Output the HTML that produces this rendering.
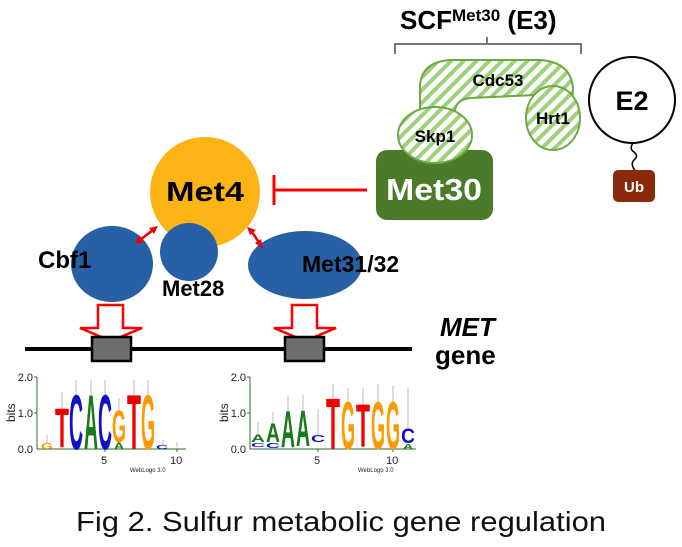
<!DOCTYPE html>
<html><head><meta charset="utf-8"><style>
html,body{margin:0;padding:0;background:#fff;}
svg{display:block;}
</style></head><body>
<svg width="682" height="547" viewBox="0 0 682 547" xmlns="http://www.w3.org/2000/svg" font-family="Liberation Sans, Arial, sans-serif">
<defs>
<pattern id="st" patternUnits="userSpaceOnUse" width="9" height="9" patternTransform="rotate(45)">
<rect width="9" height="9" fill="#fff"/><rect width="4" height="9" fill="#9fd07c"/>
</pattern>
</defs>
<text x="400" y="29" font-size="26" font-weight="bold">SCF<tspan font-size="17" dy="-8">Met30</tspan><tspan dy="8"> (E3)</tspan></text>
<path d="M395,54 V44 H581 V54 M487,44 V37" fill="none" stroke="#777" stroke-width="2"/>
<path d="M420,118 L420,85 Q422,62 450,60 L540,60 Q572,62 573,90 L572,108 L555,108 Q552,95 535,95 L470,98 Q455,100 455,112 L455,120 Z" fill="url(#st)" stroke="#6aaa40" stroke-width="2"/>
<text x="498" y="86" font-size="17" font-weight="bold" text-anchor="middle">Cdc53</text>
<ellipse cx="553" cy="118" rx="27" ry="32" fill="url(#st)" stroke="#6aaa40" stroke-width="2"/>
<text x="553" y="124" font-size="17" font-weight="bold" text-anchor="middle">Hrt1</text>
<rect x="376" y="150" width="117" height="70" rx="11" fill="#4a7a2a"/>
<ellipse cx="435" cy="135" rx="37" ry="28" fill="url(#st)" stroke="#6aaa40" stroke-width="2"/>
<text x="435" y="142" font-size="17" font-weight="bold" text-anchor="middle">Skp1</text>
<text x="434" y="200" font-size="31" font-weight="bold" fill="#fff" text-anchor="middle" textLength="96" lengthAdjust="spacingAndGlyphs">Met30</text>
<circle cx="632" cy="100" r="43" fill="#fff" stroke="#000" stroke-width="2"/>
<text x="632" y="110" font-size="27" font-weight="bold" text-anchor="middle">E2</text>
<path d="M633,143 q-4,6 1,9 q5,4 0,8 q-4,4 1,10" fill="none" stroke="#000" stroke-width="1.5"/>
<rect x="613" y="170" width="42" height="32" rx="5" fill="#8b2a0a"/>
<text x="634" y="192" font-size="15" font-weight="bold" fill="#fff" text-anchor="middle">Ub</text>
<path d="M367,190 H275 M274,175 V205" stroke="#ff0000" stroke-width="3" fill="none"/>
<circle cx="205" cy="192" r="55" fill="#fbb414"/>
<text x="205" y="201" font-size="28" font-weight="bold" text-anchor="middle" textLength="78" lengthAdjust="spacingAndGlyphs">Met4</text>
<ellipse cx="112" cy="264" rx="41" ry="38" fill="#2760a5"/>
<circle cx="189" cy="252" r="29" fill="#2760a5"/>
<ellipse cx="305" cy="265" rx="57" ry="34" fill="#2760a5"/>
<text x="38" y="268" font-size="24" font-weight="bold">Cbf1</text>
<text x="162" y="296" font-size="22" font-weight="bold">Met28</text>
<text x="302" y="272" font-size="23" font-weight="bold">Met31/32</text>
<g stroke="#e00" stroke-width="2.5" fill="#e00">
<line x1="140" y1="240" x2="153" y2="230"/>
<line x1="252" y1="232" x2="260" y2="244"/>
</g>
<polygon points="135,244 139,235 144,242" fill="#e00"/>
<polygon points="158,226 149,228 154,234" fill="#e00"/>
<polygon points="247,227 256,230 250,235" fill="#e00"/>
<polygon points="263,249 255,243 261,239" fill="#e00"/>
<g fill="#fff" stroke="#ff0000" stroke-width="2.5">
<path d="M98,305 H123 V328 H142 L111,341 L80,328 H98 Z"/>
<path d="M292,305 H317 V328 H336 L305,341 L274,328 H292 Z"/>
</g>
<line x1="25" y1="349" x2="412" y2="349" stroke="#000" stroke-width="4"/>
<rect x="92" y="337" width="39" height="24" fill="#6e6e6e" stroke="#000" stroke-width="2.5"/>
<rect x="285" y="337" width="39" height="24" fill="#6e6e6e" stroke="#000" stroke-width="2.5"/>
<text x="440" y="336" font-size="26" font-weight="bold" font-style="italic">MET</text>
<text x="435" y="364" font-size="26" font-weight="bold">gene</text>
<g stroke="#2d6a2d" stroke-width="1" fill="none">
<path d="M37,377 V449 H186 M34,377 H37 M34,413 H37 M105,449 V452 M177,449 V452"/>
<path d="M250,377 V449 H416 M247,377 H250 M247,413 H250 M318,449 V452 M393,449 V452"/>
</g>
<g font-size="11" fill="#222">
<g text-anchor="end">
<text x="33" y="381">2.0</text><text x="33" y="417">1.0</text><text x="33" y="453">0.0</text>
<text x="246" y="381">2.0</text><text x="246" y="417">1.0</text><text x="246" y="453">0.0</text>
</g>
<text x="101" y="464">5</text><text x="170" y="464">10</text>
<text x="314" y="464">5</text><text x="386" y="464">10</text>
<text x="130" y="472" font-size="6">WebLogo 3.0</text>
<text x="358" y="472" font-size="6">WebLogo 3.0</text>
</g>
<text transform="translate(15,422) rotate(-90)" font-size="12" fill="#222">bits</text>
<text transform="translate(228,422) rotate(-90)" font-size="12" fill="#222">bits</text>
<g stroke="#bbb" stroke-width="1">
<path d="M62,392 V412 M76,380 V395 M91,380 V395 M105,380 V395 M119,398 V412 M134,380 V395 M148,380 V395 M47,435 V444 M163,440 V446 M177,442 V447"/>
<path d="M258,422 V436 M273,412 V425 M288,396 V412 M303,395 V411 M318,409 V436 M333,384 V399 M348,388 V402 M363,388 V405 M378,384 V402 M393,386 V402 M408,388 V430"/>
</g>
<g font-weight="bold" font-size="100">
<text transform="translate(55,447) scale(1,0.56)" textLength="14" lengthAdjust="spacingAndGlyphs" fill="#e00">T</text>
<text transform="translate(69,449) scale(1,0.78)" textLength="14" lengthAdjust="spacingAndGlyphs" fill="#11c">C</text>
<text transform="translate(84,449) scale(1,0.78)" textLength="14" lengthAdjust="spacingAndGlyphs" fill="#1a7a1a">A</text>
<text transform="translate(98,449) scale(1,0.78)" textLength="14" lengthAdjust="spacingAndGlyphs" fill="#11c">C</text>
<text transform="translate(112,442) scale(1,0.45)" textLength="14" lengthAdjust="spacingAndGlyphs" fill="#f90">G</text>
<text transform="translate(114,449) scale(1,0.09)" textLength="10" lengthAdjust="spacingAndGlyphs" fill="#1a7a1a">A</text>
<text transform="translate(127,449) scale(1,0.78)" textLength="14" lengthAdjust="spacingAndGlyphs" fill="#e00">T</text>
<text transform="translate(141,449) scale(1,0.78)" textLength="14" lengthAdjust="spacingAndGlyphs" fill="#f90">G</text>
<text transform="translate(41,449) scale(1,0.08)" textLength="12" lengthAdjust="spacingAndGlyphs" fill="#f90">G</text>
<text transform="translate(156,449) scale(1,0.05)" textLength="12" lengthAdjust="spacingAndGlyphs" fill="#11c">C</text>
<text transform="translate(251,442) scale(1,0.11)" textLength="14" lengthAdjust="spacingAndGlyphs" fill="#1a7a1a">A</text>
<text transform="translate(251,447) scale(1,0.05)" textLength="14" lengthAdjust="spacingAndGlyphs" fill="#11c">C</text>
<text transform="translate(266,442) scale(1,0.27)" textLength="14" lengthAdjust="spacingAndGlyphs" fill="#1a7a1a">A</text>
<text transform="translate(266,448) scale(1,0.07)" textLength="14" lengthAdjust="spacingAndGlyphs" fill="#11c">C</text>
<text transform="translate(281,447) scale(1,0.52)" textLength="14" lengthAdjust="spacingAndGlyphs" fill="#1a7a1a">A</text>
<text transform="translate(296,446) scale(1,0.51)" textLength="14" lengthAdjust="spacingAndGlyphs" fill="#1a7a1a">A</text>
<text transform="translate(311,442) scale(1,0.10)" textLength="14" lengthAdjust="spacingAndGlyphs" fill="#11c">C</text>
<text transform="translate(326,449) scale(1,0.72)" textLength="14" lengthAdjust="spacingAndGlyphs" fill="#e00">T</text>
<text transform="translate(341,449) scale(1,0.68)" textLength="14" lengthAdjust="spacingAndGlyphs" fill="#f90">G</text>
<text transform="translate(356,447) scale(1,0.61)" textLength="14" lengthAdjust="spacingAndGlyphs" fill="#e00">T</text>
<text transform="translate(371,449) scale(1,0.68)" textLength="14" lengthAdjust="spacingAndGlyphs" fill="#f90">G</text>
<text transform="translate(386,449) scale(1,0.68)" textLength="14" lengthAdjust="spacingAndGlyphs" fill="#f90">G</text>
<text transform="translate(401,443) scale(1,0.21)" textLength="14" lengthAdjust="spacingAndGlyphs" fill="#11c">C</text>
<text transform="translate(403,449) scale(1,0.07)" textLength="10" lengthAdjust="spacingAndGlyphs" fill="#1a7a1a">A</text>
</g>
<text x="76" y="531" font-size="28" fill="#111" textLength="530" lengthAdjust="spacingAndGlyphs">Fig 2. Sulfur metabolic gene regulation</text>
</svg>
</body></html>
